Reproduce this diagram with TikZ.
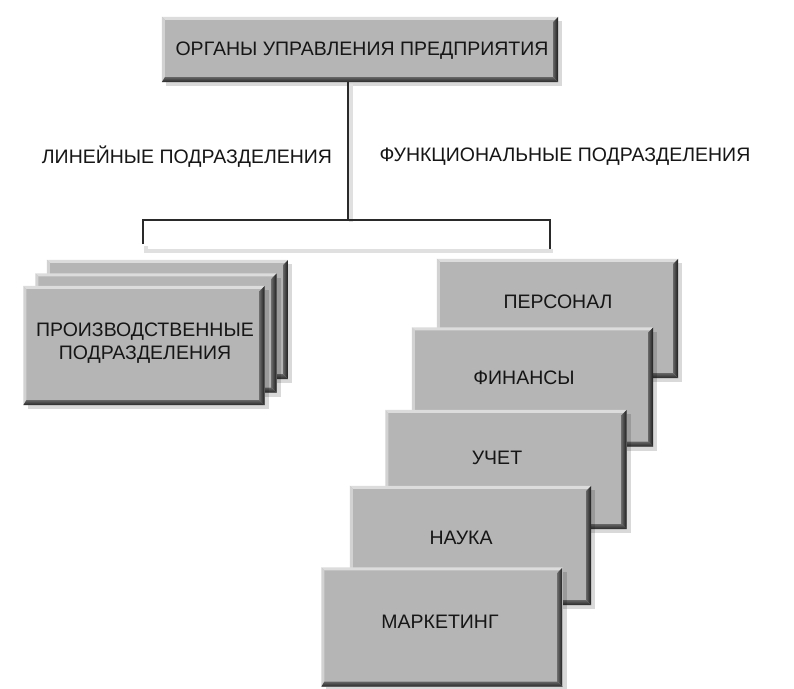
\documentclass[tikz,border=0pt]{standalone}
\usepackage{fontspec}
\setmainfont{Liberation Sans}
\usetikzlibrary{shadows}
\definecolor{boxgray}{HTML}{B5B5B5}
\definecolor{txtcol}{HTML}{161616}
\definecolor{linecol}{HTML}{2A2A2A}
\definecolor{hlc}{HTML}{DCDCDC}
\definecolor{hlc2}{HTML}{D2D2D2}
\newcommand\bevelbox[1]{%
  \fill[hlc] (#1.north west) -- (#1.north east) -- ([shift={(-3,3)}]#1.north east) -- ([shift={(3,3)}]#1.north west) -- cycle;
  \fill[hlc2] (#1.north west) -- ([shift={(3,3)}]#1.north west) -- ([shift={(3,-3)}]#1.south west) -- (#1.south west) -- cycle;
  \shade[left color=boxgray!55!black, right color=black!90] (#1.north east) -- (#1.south east) -- ([shift={(-5,-5)}]#1.south east) -- ([shift={(-5,5)}]#1.north east) -- cycle;
  \shade[top color=boxgray!55!black, bottom color=black!85] (#1.south west) -- (#1.south east) -- ([shift={(-5,-5)}]#1.south east) -- ([shift={(3,-5)}]#1.south west) -- cycle;
}
\begin{document}
\begin{tikzpicture}[x=1pt,y=-1pt,
  gbox/.style={fill=boxgray, draw=none, minimum width=241pt, minimum height=119pt, inner sep=0pt,
    drop shadow={shadow xshift=4pt, shadow yshift=-4pt, opacity=0.15, fill=black}},
  txt/.style={text=txtcol, font=\fontsize{19.5}{23}\selectfont, inner sep=0pt, align=center},
  conn/.style={draw=linecol, line width=2pt},
  connsh/.style={draw=black!12, line width=4pt}]
\useasboundingbox[fill=white] (0,0) rectangle (794,688);

% top box
\node[gbox, minimum width=396pt, minimum height=65pt] (top) at (360,49.5) {};
\bevelbox{top}
\node[txt] (toptxt) at (362,51) {ОРГАНЫ УПРАВЛЕНИЯ ПРЕДПРИЯТИЯ};

% connectors
\coordinate (j) at (348,220);
\coordinate (lend) at (143,244);
\coordinate (rend) at (550,249);
\draw[connsh] ([xshift=3pt,yshift=-2pt]top.south -| j) -- ([xshift=3pt,yshift=-2pt]j);
\draw[connsh] ([xshift=3pt,yshift=-2pt]lend) |- ([xshift=3pt,yshift=-2pt]rend);
\draw[conn] (top.south -| j) -- (j);
\draw[conn] (lend) |- (j) -| (rend);

% labels
\node[txt] (lin) at (187,157) {ЛИНЕЙНЫЕ ПОДРАЗДЕЛЕНИЯ};
\node[txt] (fun) at (565,157) {ФУНКЦИОНАЛЬНЫЕ ПОДРАЗДЕЛЕНИЯ};

% left stack
\node[gbox] (pb) at (167.5,319.5) {};
\bevelbox{pb}
\node[gbox] (pm) at (156,333) {};
\bevelbox{pm}
\node[gbox] (pf) at (144,345.5) {};
\bevelbox{pf}
\node[txt] (ptxt) at (145,343.5) {ПРОИЗВОДСТВЕННЫЕ\\ПОДРАЗДЕЛЕНИЯ};

% right stack
\node[gbox] (pers) at (557.5,318.5) {};
\bevelbox{pers}
\node[txt] (perstxt) at (558,302) {ПЕРСОНАЛ};
\node[gbox] (fin) at (532.5,387) {};
\bevelbox{fin}
\node[txt] (fintxt) at (524,378) {ФИНАНСЫ};
\node[gbox] (uch) at (506,469.5) {};
\bevelbox{uch}
\node[txt] (uchtxt) at (497,458) {УЧЕТ};
\node[gbox] (nau) at (470.5,545.5) {};
\bevelbox{nau}
\node[txt] (nautxt) at (461,538) {НАУКА};
\node[gbox] (mark) at (442,627) {};
\bevelbox{mark}
\node[txt] (marktxt) at (440,622) {МАРКЕТИНГ};
\end{tikzpicture}
\end{document}
